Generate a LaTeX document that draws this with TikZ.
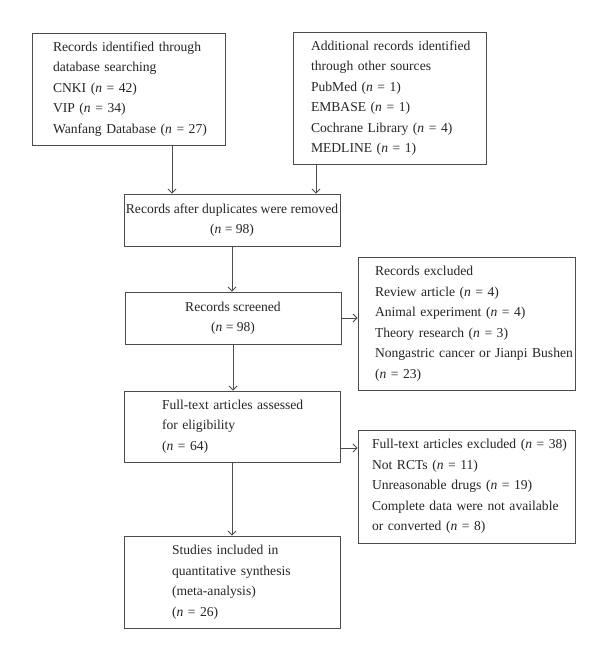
\documentclass[tikz,border=0pt]{standalone}
\usepackage{fontspec}
\setmainfont{Liberation Serif}
\usetikzlibrary{arrows.meta}
\begin{document}
\begin{tikzpicture}[x=1pt,y=-1pt,
  box/.style={draw=black!70, line width=0.9pt, inner ysep=0pt, text=black!85,
    font=\fontsize{13.6}{20.5}\selectfont},
  lbox/.style={box, align=left},
  cbox/.style={box, align=center, inner xsep=0pt, minimum width=216pt, minimum height=52pt},
  arr/.style={draw=black!70, line width=0.8pt, -{Straight Barb[length=4pt,width=8pt]}}]
\useasboundingbox[fill=white] (0,0) rectangle (606,660);
\newcommand{\nn}[1]{(\textit{n} = #1)}
\node[lbox, text width=151pt, inner xsep=21pt, minimum height=112pt] (b1) at (128.5,89)
  {\mbox{Records identified through}\\\mbox{database searching}\\\mbox{CNKI \nn{42}}\\\mbox{VIP \nn{34}}\\\mbox{Wanfang Database \nn{27}}};
\node[lbox, text width=157pt, inner xsep=18pt, minimum height=132pt] (b2) at (389.5,98)
  {\mbox{Additional records identified}\\\mbox{through other sources}\\\mbox{PubMed \nn{1}}\\\mbox{EMBASE \nn{1}}\\\mbox{Cochrane Library \nn{4}}\\\mbox{MEDLINE \nn{1}}};
\node[cbox] (dup) at (232,220) {Records after duplicates were removed\\\nn{98}};
\node[cbox] (scr) at (233,318) {Records screened\\\nn{98}};
\node[lbox, text width=183pt, inner xsep=17pt, minimum height=133pt] (ex1) at (466.5,323.5)
  {\mbox{Records excluded}\\\mbox{Review article \nn{4}}\\\mbox{Animal experiment \nn{4}}\\\mbox{Theory research \nn{3}}\\\mbox{Nongastric cancer or Jianpi Bushen}\\\mbox{\nn{23}}};
\node[lbox, text width=140pt, inner xsep=38pt, minimum height=71pt] (full) at (232,426.5)
  {\mbox{Full-text articles assessed}\\\mbox{for eligibility}\\\mbox{\nn{64}}};
\node[lbox, text width=189pt, inner xsep=14pt, minimum height=113pt] (ex2) at (466.5,486.5)
  {\mbox{Full-text articles excluded \nn{38}}\\\mbox{Not RCTs \nn{11}}\\\mbox{Unreasonable drugs \nn{19}}\\\mbox{Complete data were not available}\\\mbox{or converted \nn{8}}};
\node[lbox, text width=120pt, inner xsep=48pt, minimum height=92pt] (stud) at (232,582)
  {\mbox{Studies included in}\\\mbox{quantitative synthesis}\\\mbox{(meta-analysis)}\\\mbox{\nn{26}}};
\coordinate (c1) at (172,0);
\coordinate (c2) at (316,0);
\coordinate (c3) at (0,448);
\draw[arr] (c1 |- b1.south) -- (c1 |- dup.north);
\draw[arr] (c2 |- b2.south) -- (c2 |- dup.north);
\draw[arr] (dup.south) -- (dup.south |- scr.north);
\draw[arr] (scr.east) -- (scr.east -| ex1.west);
\draw[arr] (scr.south) -- (scr.south |- full.north);
\draw[arr] (full.east |- c3) -- (ex2.west |- c3);
\draw[arr] (full.south) -- (stud.north);
\end{tikzpicture}
\end{document}
